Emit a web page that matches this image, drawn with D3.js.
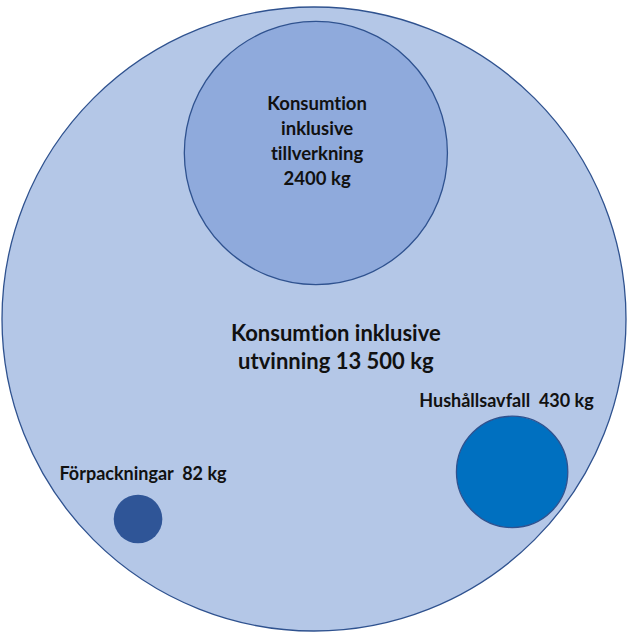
<!DOCTYPE html>
<html>
<head>
<meta charset="utf-8">
<script src="https://cdn.jsdelivr.net/npm/d3@7"></script>
<style>
  html, body { margin: 0; padding: 0; background: #fff; }
  svg { display: block; }
  text { font-family: Lato, "Open Sans", sans-serif; font-weight: bold; fill: #111; font-variant-ligatures: none; font-feature-settings: "liga" 0; }
</style>
</head>
<body>
<svg width="628" height="632"></svg>
<script>
// Data
var names = ["Konsumtion inklusive utvinning", "Konsumtion inklusive tillverkning", "Hushållsavfall", "Förpackningar"];
var values = [13500, 2400, 430, 82];
var labelLines = [
  ["Konsumtion inklusive", "utvinning 13 500 kg"],
  ["Konsumtion", "inklusive", "tillverkning", "2400 kg"],
  ["Hushållsavfall  430 kg"],
  ["Förpackningar  82 kg"]
];

// Layout (relative to the big circle, in units of its radius)
var centers = [[0, 0], [0.006, -0.532], [0.635, 0.49], [-0.564, 0.641]];
var labelAnchor = [[0.07, 0.089], [0.01, -0.571], [0.617, 0.26], [-0.548, 0.494]];
var fills = ["#b4c7e7", "#8faadc", "#0070c0", "#2f5597"];
var strokes = ["#2f528f", "#2f528f", "#2f528f", "none"];
var fontSizes = [22, 18.5, 18, 18];
var lineGap = [28, 25, 0, 0];

var svg = d3.select("svg"),
  width = +svg.attr("width"),
  height = +svg.attr("height");

var cx = 314, cy = 319, R = 312;

// radius: area proportional to kg
var r = d3.scaleSqrt().domain([0, d3.max(values)]).range([0, R]);
var x = d3.scaleLinear().domain([-1, 1]).range([cx - R, cx + R]);
var y = d3.scaleLinear().domain([-1, 1]).range([cy - R, cy + R]);

var data = values.map(function (v, i) {
  return { name: names[i], value: v, c: centers[i], lab: labelAnchor[i], lines: labelLines[i], i: i };
});

svg.append("g")
  .selectAll("circle")
  .data(data)
  .enter()
  .append("circle")
  .attr("cx", function (d) { return x(d.c[0]); })
  .attr("cy", function (d) { return y(d.c[1]); })
  .attr("r", function (d) { return r(d.value); })
  .attr("fill", function (d) { return fills[d.i]; })
  .attr("stroke", function (d) { return strokes[d.i]; })
  .attr("stroke-width", 1.3);

// labels
var labels = svg.append("g")
  .selectAll("text")
  .data(data)
  .enter()
  .append("text")
  .attr("text-anchor", "middle")
  .style("font-size", function (d) { return fontSizes[d.i] + "px"; })
  .style("white-space", "pre");

labels.each(function (d) {
  var n = d.lines.length;
  d3.select(this).selectAll("tspan")
    .data(d.lines)
    .enter()
    .append("tspan")
    .attr("x", x(d.lab[0]))
    .attr("y", function (t, k) { return y(d.lab[1]) + (k - (n - 1) / 2) * lineGap[d.i]; })
    .attr("dominant-baseline", "central")
    .text(function (t) { return t; });
});
</script>
</body>
</html>
